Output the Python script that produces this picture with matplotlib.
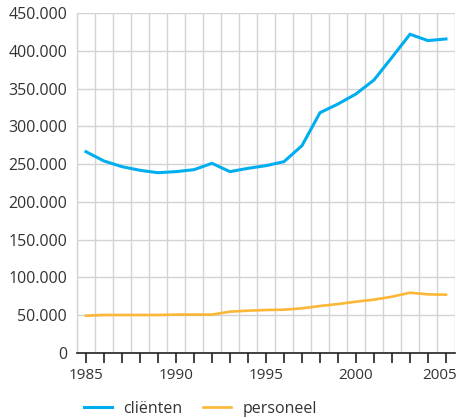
import numpy as np
import matplotlib.pyplot as plt
import matplotlib.transforms as mtransforms
from matplotlib.ticker import FuncFormatter, MultipleLocator

plt.rcParams['font.family'] = ['Open Sans', 'DejaVu Sans']

# %% Data
jaren = list(range(1985, 2006))
clienten = [266400, 254100, 246600, 241800, 238600, 240000, 242600, 251000,
            240000, 244400, 247900, 253200, 274400, 318000, 329500, 342800,
            361300, 391300, 421800, 413400, 415600]
personeel = [49400, 50300, 50300, 50300, 50300, 50800, 50800, 50800,
             54700, 56000, 56900, 57300, 59100, 62200, 64800, 67900,
             70600, 74500, 79800, 77600, 77200]
jaar_labels = [1985, 1990, 1995, 2000, 2005]

blauw = '#00AEEF'
oranje = '#FBB735'
grijs = '#D3D3D3'

# %% Figuur
fig = plt.figure(figsize=(4.58, 4.18), dpi=100)
ax = fig.add_axes([0.168, 0.1555, 0.8254, 0.8135])

ax.plot(jaren, clienten, color=blauw, lw=2.2, label='cliënten', solid_joinstyle='miter')
ax.plot(jaren, personeel, color=oranje, lw=1.9, label='personeel', solid_joinstyle='miter')

ax.set_xlim(jaren[0] - 0.5, jaren[-1] + 0.5)
ax.set_ylim(0, 450000)

# grid op de jaargrenzen
ax.set_xticks(np.arange(jaren[0] - 0.5, jaren[-1] + 1, 1), minor=True)
ax.set_xticks(jaren)
ax.set_xticklabels([str(j) if j in jaar_labels else '' for j in jaren])
ax.yaxis.set_major_locator(MultipleLocator(50000))
ax.yaxis.set_major_formatter(FuncFormatter(lambda v, p: f'{int(v):,}'.replace(',', '.')))

ax.grid(True, which='minor', axis='x', color=grijs, lw=1)
ax.grid(True, which='major', axis='y', color=grijs, lw=1)
ax.set_axisbelow(True)

for s in ['top', 'right']:
    ax.spines[s].set_visible(False)
ax.spines['left'].set_color(grijs)
ax.spines['left'].set_linewidth(1)
ax.spines['bottom'].set_color('#222222')
ax.spines['bottom'].set_linewidth(1.2)

ax.tick_params(axis='x', which='major', length=7, width=1.2, color='#222222',
               labelsize=11, labelcolor='#333333', pad=4)
ax.tick_params(axis='x', which='minor', length=0)
ax.tick_params(axis='y', length=0, labelsize=11.5, labelcolor='#333333', pad=7)

# laatste jaartal iets naar links zodat het past
laatste = ax.get_xticklabels()[-1]
laatste.set_transform(laatste.get_transform() +
                      mtransforms.ScaledTranslation(-6.5 / 100, 0, fig.dpi_scale_trans))

fig.legend(loc='center left', bbox_to_anchor=(0.153, 0.022), ncol=2, frameon=False,
           fontsize=11.5, handlelength=1.75, handletextpad=0.7, columnspacing=1.3,
           labelcolor='#333333')

fig.savefig('out.png', dpi=100)
